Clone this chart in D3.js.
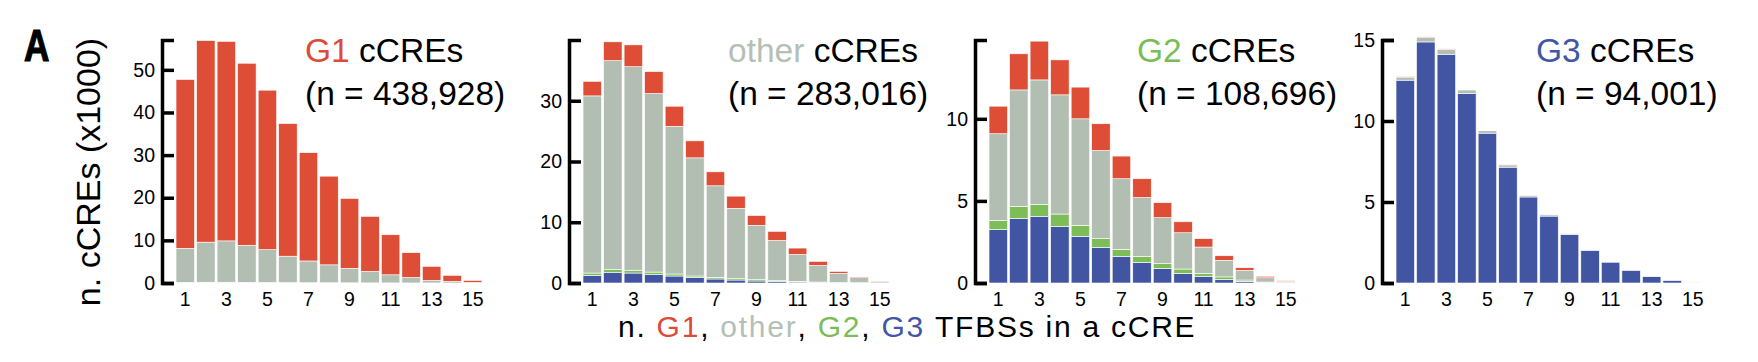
<!DOCTYPE html>
<html>
<head>
<meta charset="utf-8">
<script src="https://cdn.jsdelivr.net/npm/d3@7"></script>
<style>
  body { margin: 0; background: #fff; }
  text { font-family: "Liberation Sans", Arial, Helvetica, sans-serif; }
</style>
</head>
<body>
<script>
// bins: number of TFBSs in a cCRE
const bins = [1, 2, 3, 4, 5, 6, 7, 8, 9, 10, 11, 12, 13, 14, 15];
const xTickLabels = [1, 3, 5, 7, 9, 11, 13, 15];

// counts in thousands, one array per TFBS class, per cCRE group
// G1 cCREs
const g1G3 = [0.02, 0.03, 0.03, 0.02, 0.02, 0.01, 0.01, 0.01, 0, 0, 0, 0, 0, 0, 0];
const g1G2 = [0.12, 0.15, 0.15, 0.13, 0.11, 0.08, 0.06, 0.05, 0.04, 0.03, 0.02, 0.01, 0.01, 0, 0];
const g1Other = [8.0, 9.4, 9.7, 8.7, 7.7, 6.2, 5.1, 4.2, 3.4, 2.7, 1.9, 1.3, 0.6, 0.4, 0.15];
const g1G1 = [39.6, 47.3, 46.8, 42.7, 37.4, 31.1, 25.4, 20.8, 16.4, 12.9, 9.4, 5.8, 3.3, 1.4, 0.45];
// other cCREs
const otG3 = [1.26, 1.7, 1.64, 1.37, 1.15, 0.88, 0.66, 0.49, 0.33, 0.27, 0.16, 0.1, 0.05, 0.03, 0.01];
const otG2 = [0.38, 0.5, 0.46, 0.43, 0.33, 0.27, 0.27, 0.22, 0.22, 0.11, 0.11, 0.06, 0.05, 0.02, 0.01];
const otOther = [29.16, 34.4, 33.5, 29.4, 24.32, 19.45, 15.07, 11.59, 8.95, 6.62, 4.43, 2.74, 1.5, 0.83, 0.23];
const otG1 = [2.4, 3.1, 3.6, 3.6, 3.3, 2.8, 2.3, 2.0, 1.6, 1.5, 1.05, 0.66, 0.3, 0.12, 0.05];
// G2 cCREs
const g2G3 = [3.25, 3.94, 4.06, 3.45, 2.84, 2.17, 1.62, 1.26, 0.89, 0.59, 0.41, 0.22, 0.1, 0.04, 0.01];
const g2G2 = [0.56, 0.73, 0.73, 0.75, 0.67, 0.53, 0.43, 0.36, 0.29, 0.26, 0.18, 0.15, 0.08, 0.02, 0.01];
const g2Other = [5.28, 7.09, 7.58, 7.26, 6.49, 5.37, 4.3, 3.59, 2.8, 2.21, 1.6, 1.01, 0.59, 0.26, 0.08];
const g2G1 = [1.68, 2.2, 2.36, 2.13, 1.93, 1.63, 1.38, 1.14, 0.91, 0.67, 0.51, 0.28, 0.16, 0.09, 0.04];
// G3 cCREs
const g3G3 = [12.52, 14.88, 14.12, 11.69, 9.25, 7.15, 5.31, 4.13, 3.0, 2.02, 1.29, 0.79, 0.4, 0.17, 0.04];
const g3G2 = [0, 0, 0, 0, 0, 0, 0, 0, 0, 0, 0, 0, 0, 0, 0];
const g3Other = [0.19, 0.28, 0.28, 0.23, 0.15, 0.14, 0.09, 0.08, 0.04, 0.02, 0.01, 0.01, 0.01, 0.01, 0.01];
const g3G1 = [0.02, 0.03, 0.05, 0.02, 0.01, 0.01, 0, 0, 0, 0, 0, 0, 0, 0, 0];

// axis settings
const yMax = [57, 40, 14.8, 15];
const yTicks = [[0, 10, 20, 30, 40, 50], [0, 10, 20, 30], [0, 5, 10], [0, 5, 10, 15]];
const titleNames = ["G1", "other", "G2", "G3"];
const titleCounts = ["(n = 438,928)", "(n = 283,016)", "(n = 108,696)", "(n = 94,001)"];

const colors = { g1: "#de4e36", other: "#b3beb3", g2: "#7cbd58", g3: "#4155a3" };
const textColors = { G1: "#dd4a3a", other: "#b4c0b5", G2: "#7abd57", G3: "#4256a5" };

const panels = [
  { g3: g1G3, g2: g1G2, other: g1Other, g1: g1G1 },
  { g3: otG3, g2: otG2, other: otOther, g1: otG1 },
  { g3: g2G3, g2: g2G2, other: g2Other, g1: g2G1 },
  { g3: g3G3, g2: g3G2, other: g3Other, g1: g3G1 }
];

const width = 1758, height = 362;
const yBottom = 283, yTop = 40;
const axisX = [162, 569, 975, 1382];
const titleX = [305, 728, 1137, 1536];

const svg = d3.select("body").append("svg")
  .attr("width", width)
  .attr("height", height);

const keys = ["g3", "g2", "other", "g1"];

panels.forEach((p, i) => {
  const g = svg.append("g").attr("transform", `translate(${axisX[i]},0)`);

  const x = d3.scaleBand()
    .domain(bins)
    .range([13, 321])
    .paddingInner(0.1)
    .paddingOuter(0.05);
  const y = d3.scaleLinear()
    .domain([0, yMax[i]])
    .range([yBottom, yTop]);

  const rows = bins.map((b, j) => ({ bin: b, g3: p.g3[j], g2: p.g2[j], other: p.other[j], g1: p.g1[j] }));
  const series = d3.stack().keys(keys)(rows);

  // stacked bars
  g.selectAll(".layer")
    .data(series)
    .join("g")
    .attr("fill", d => colors[d.key])
    .selectAll("rect")
    .data(d => d.filter(s => s[1] - s[0] > 0))
    .join("rect")
    .attr("x", d => x(d.data.bin))
    .attr("width", x.bandwidth())
    .attr("y", d => y(d[1]))
    .attr("height", d => y(d[0]) - y(d[1]))
    .attr("stroke", "#fff")
    .attr("stroke-width", 0.6);

  // y axis as a bracket
  const yAxis = g.append("g")
    .call(d3.axisLeft(y).tickValues(yTicks[i].filter(t => t <= yMax[i])).tickSize(-12).tickSizeOuter(-12).tickPadding(7));
  yAxis.select(".domain").attr("stroke", "#000").attr("stroke-width", 3.5).attr("fill", "none");
  yAxis.selectAll(".tick line").attr("stroke", "#000").attr("stroke-width", 3.5);
  yAxis.selectAll(".tick text")
    .attr("font-size", 19.5)
    .attr("fill", "#000");

  // x axis labels only
  const xAxis = g.append("g")
    .attr("transform", `translate(0,${yBottom})`)
    .call(d3.axisBottom(x).tickValues(xTickLabels).tickSize(0).tickPadding(9));
  xAxis.select(".domain").remove();
  xAxis.selectAll(".tick text")
    .attr("font-size", 19.5)
    .attr("fill", "#000");

  // title
  const t1 = svg.append("text")
    .attr("x", titleX[i])
    .attr("y", 62)
    .attr("font-size", 33.5);
  t1.append("tspan").attr("fill", textColors[titleNames[i]]).text(titleNames[i]);
  t1.append("tspan").attr("fill", "#000").text(" cCREs");
  svg.append("text")
    .attr("x", titleX[i])
    .attr("y", 105)
    .attr("font-size", 33.5)
    .attr("fill", "#000")
    .text(titleCounts[i]);
});

// panel letter (bold, squeezed to look condensed)
svg.append("text")
  .attr("transform", "translate(24,61) scale(0.8,1)")
  .attr("font-weight", "bold")
  .attr("font-size", 44)
  .attr("stroke", "#000")
  .attr("stroke-width", 1.2)
  .text("A");

// y label
svg.append("text")
  .attr("transform", "translate(100,172) rotate(-90)")
  .attr("text-anchor", "middle")
  .attr("font-size", 34)
  .text("n. cCREs (x1000)");

// x label, laid out char by char so the loose tracking survives
const xLabelParts = [
  ["n. ", "#000"], ["G1", textColors.G1], [", ", "#000"], ["other", textColors.other],
  [", ", "#000"], ["G2", textColors.G2], [", ", "#000"], ["G3", textColors.G3],
  [" TFBSs in a cCRE", "#000"]
];
const xl = svg.append("g").attr("class", "x-label");
let cx = 618;
xLabelParts.forEach(([str, col]) => {
  for (const ch of str) {
    const t = xl.append("text")
      .attr("x", cx)
      .attr("y", 337)
      .attr("font-size", 30)
      .attr("fill", col)
      .style("white-space", "pre")
      .text(ch);
    const w = ch === " " ? 30 * 0.278 : t.node().getComputedTextLength();
    cx += w + 1.75;
  }
});
</script>
</body>
</html>
